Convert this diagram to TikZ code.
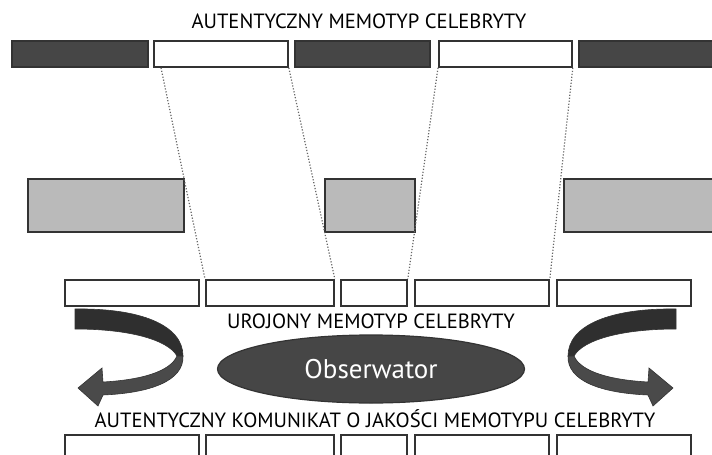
\documentclass[tikz,border=0pt]{standalone}
\usepackage{fontspec}
\setmainfont{PT Sans}
\usetikzlibrary{calc,shapes.geometric}
\definecolor{obrys}{HTML}{333333}
\definecolor{ciemnyszary}{HTML}{464646}
\definecolor{jasnoszary}{HTML}{BABABA}
\definecolor{wstega}{HTML}{2F2F2F}
\definecolor{wstegab}{HTML}{4A4A4A}
\tikzset{
  pasek/.style={draw=obrys,line width=1.8pt,anchor=north west,inner sep=0pt,minimum height=26pt},
  bialy/.style={pasek,fill=white},
  ciemny/.style={pasek,fill=ciemnyszary},
  szary/.style={pasek,fill=jasnoszary,minimum height=53pt},
  kropki/.style={dash pattern=on 1.2pt off 1.8pt,line width=1.2pt,draw=black!60},
  napis/.style={font=\fontsize{20.6}{24}\selectfont,text=black}
}
% wstega ze strzalka
\newcommand{\strzalka}{%
  \fill[wstega,draw=obrys,line width=0.6pt] (75,309) .. controls (140,308) and (183,325) .. (183,356)
    -- (177,356) .. controls (168,340) and (130,329) .. (75,329) -- cycle;
  \fill[wstegab,draw=obrys,line width=0.6pt] (177,356) -- (183,356) .. controls (184,381) and (150,393) .. (103,395)
    -- (98,406) -- (78,388) -- (102,368) -- (103,382) .. controls (140,380) and (170,372) .. (177,356) -- cycle;
}
\begin{document}
\begin{tikzpicture}[x=1pt,y=-1pt]
\useasboundingbox (0,0) rectangle (712,455);
\clip (0,0) rectangle (712,455);
% gorny rzad
\node[napis] (tytul) at (359,21) {AUTENTYCZNY MEMOTYP CELEBRYTY};
\node[ciemny,minimum width=136pt] (t1) at (11,40) {};
\node[bialy,minimum width=134pt] (t2) at (153,40) {};
\node[ciemny,minimum width=135pt] (t3) at (294,40) {};
\node[bialy,minimum width=133pt] (t4) at (438,40) {};
\node[ciemny,minimum width=140pt] (t5) at (578,40) {};
% szare
\node[szary,minimum width=156pt] (s1) at (27,178) {};
\node[szary,minimum width=90pt] (s2) at (324,178) {};
\node[szary,minimum width=155pt] (s3) at (563,178) {};
% srodkowy rzad
\node[bialy,minimum width=134pt] (m1) at (64,279) {};
\node[bialy,minimum width=128pt] (m2) at (205,279) {};
\node[bialy,minimum width=66pt] (m3) at (340,279) {};
\node[bialy,minimum width=134pt] (m4) at (414,279) {};
\node[bialy,minimum width=134pt] (m5) at (556,279) {};
% linie
\draw[kropki] ($(t2.south west)+(8,0)$) -- (m2.north west);
\draw[kropki] (t2.south east) -- (m2.north east);
\draw[kropki] (t4.south west) -- (m3.north east);
\draw[kropki] (t4.south east) -- (m4.north east);
\node[napis] (urojony) at (371,321) {UROJONY MEMOTYP CELEBRYTY};
% obserwator
\node[ellipse,fill=ciemnyszary,draw=obrys,line width=1.2pt,minimum width=307pt,minimum height=68pt,
  text=white,font=\fontsize{27}{32}\selectfont] (obs) at (371,369) {Obserwator};
\strzalka
\begin{scope}[xshift=751pt,xscale=-1]
\strzalka
\end{scope}
% dolny rzad
\node[napis] (komunikat) at (375,419) {AUTENTYCZNY KOMUNIKAT O JAKOŚCI MEMOTYPU CELEBRYTY};
\node[bialy,minimum width=134pt,minimum height=40pt] (d1) at (64,434) {};
\node[bialy,minimum width=128pt,minimum height=40pt] (d2) at (205,434) {};
\node[bialy,minimum width=66pt,minimum height=40pt] (d3) at (340,434) {};
\node[bialy,minimum width=134pt,minimum height=40pt] (d4) at (414,434) {};
\node[bialy,minimum width=134pt,minimum height=40pt] (d5) at (556,434) {};
\end{tikzpicture}
\end{document}
